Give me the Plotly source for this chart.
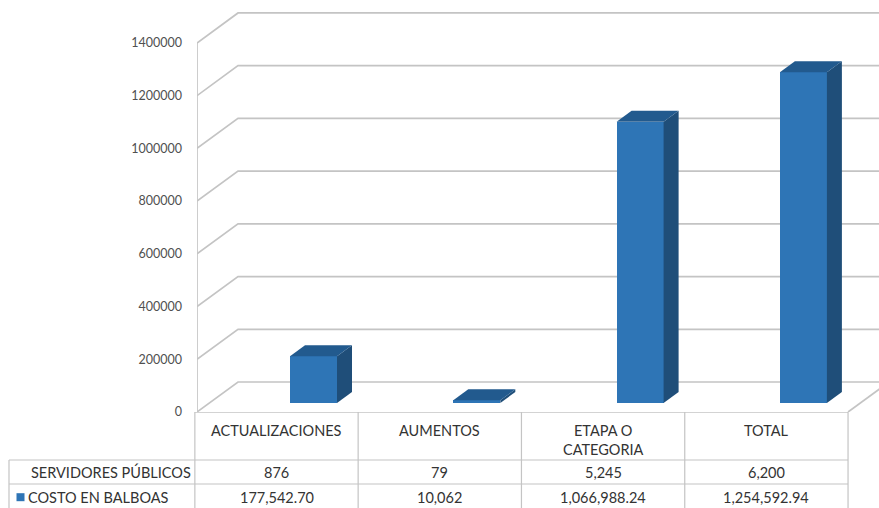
import plotly.graph_objects as go

# ---------------- data ----------------
categories = ["ACTUALIZACIONES", "AUMENTOS", "ETAPA O CATEGORIA", "TOTAL"]
header_labels = ["ACTUALIZACIONES", "AUMENTOS", "ETAPA O<br>CATEGORIA", "TOTAL"]
servidores = [876, 79, 5245, 6200]
costo = [177542.70, 10062, 1066988.24, 1254592.94]
row_labels = ["SERVIDORES PÚBLICOS", "COSTO EN BALBOAS"]
y_ticks = [0, 200000, 400000, 600000, 800000, 1000000, 1200000, 1400000]


def fmt(v):
    return f"{v:,.0f}" if float(v).is_integer() else f"{v:,.2f}"


servidores_text = [fmt(v) for v in servidores]
costo_text = [fmt(v) for v in costo]

# ---------------- geometry (pixel based style constants) ----------------
W, H = 879, 508
PX_PER_CAT = 163.3          # pixels per category
CAT0_PX = 276.5             # pixel x of first category centre
PLOT_LEFT_PX = 197          # front-left edge of the 3D box
FLOOR_PX = 412              # pixel y of the front floor edge
PX_PER_VAL = 263.6e-6       # pixels per value unit
TABLE_H = H - FLOOR_PX


def ux(px):  # horizontal pixel length -> category units
    return px / PX_PER_CAT


def uy(px):  # vertical pixel length -> value units
    return px / PX_PER_VAL


x_lo = ux(PLOT_LEFT_PX - CAT0_PX)
x_hi = ux(W - CAT0_PX)
x2_lo = ux(0 - CAT0_PX)
y_hi = uy(FLOOR_PX)

WALL_DX, WALL_DY = ux(41), uy(30)
BAR_SHIFT, BAR_W = ux(37), ux(47)
BAR_BASE = uy(9)
BAR_DX, BAR_DY = ux(15), uy(11)

FRONT = "#2E75B6"
SIDE = "#1F4E79"
TOP = "#225A8E"
GRID = "#C4C4C4"
TXT = "#333333"
FONT = "Lato"
TSIZE = 14.5

fig = go.Figure()

# ---------------- bars (front faces) ----------------
idx = list(range(len(categories)))
bx = [i + BAR_SHIFT for i in idx]
fig.add_trace(go.Bar(
    x=bx, y=costo, base=[BAR_BASE] * len(costo), width=BAR_W,
    marker=dict(color=FRONT, line=dict(width=0)),
    name="COSTO EN BALBOAS", showlegend=False, hoverinfo="skip",
    xaxis="x", yaxis="y",
))

# side and top faces
for xc, v in zip(bx, costo):
    xl, xr = xc - BAR_W / 2, xc + BAR_W / 2
    top = BAR_BASE + v
    fig.add_trace(go.Scatter(
        x=[xr, xr + BAR_DX, xr + BAR_DX, xr, xr],
        y=[BAR_BASE, BAR_BASE + BAR_DY, top + BAR_DY, top, BAR_BASE],
        fill="toself", fillcolor=SIDE, mode="lines", line=dict(width=0, color=SIDE),
        showlegend=False, hoverinfo="skip", xaxis="x", yaxis="y",
    ))
    fig.add_trace(go.Scatter(
        x=[xl, xl + BAR_DX, xr + BAR_DX, xr, xl],
        y=[top, top + BAR_DY, top + BAR_DY, top, top],
        fill="toself", fillcolor=TOP, mode="lines", line=dict(width=0, color=TOP),
        showlegend=False, hoverinfo="skip", xaxis="x", yaxis="y",
    ))

shapes = []
# back-wall gridlines with their diagonal on the left wall
for v in y_ticks:
    shapes.append(dict(
        type="path", xref="x", yref="y", layer="below",
        path=f"M {x_lo},{v} L {x_lo + WALL_DX},{v + WALL_DY} L {x_hi + 1},{v + WALL_DY}",
        line=dict(color=GRID, width=1.7),
    ))
# front-left vertical edge
shapes.append(dict(type="line", xref="x", yref="y", layer="below",
                   x0=x_lo, x1=x_lo, y0=0, y1=y_ticks[-1],
                   line=dict(color=GRID, width=1.7)))
# floor right diagonal
last = len(categories) - 0.5
shapes.append(dict(type="line", xref="x", yref="y", layer="below",
                   x0=last, x1=last + WALL_DX, y0=0, y1=WALL_DY,
                   line=dict(color=GRID, width=1.7)))

# ---------------- data table ----------------
n = len(categories)
tbl_left = ux(9 - CAT0_PX)
shapes.append(dict(type="line", xref="x2", yref="y2", x0=-0.5, x1=n - 0.5, y0=4, y1=4,
                   line=dict(color=GRID, width=1.7)))
for yv in [2, 1]:
    shapes.append(dict(type="line", xref="x2", yref="y2", x0=tbl_left, x1=n - 0.5,
                       y0=yv, y1=yv, line=dict(color=GRID, width=1.2)))
for k in range(n + 1):
    shapes.append(dict(type="line", xref="x2", yref="y2", x0=k - 0.5, x1=k - 0.5,
                       y0=0, y1=4, line=dict(color=GRID, width=1.2)))
shapes.append(dict(type="line", xref="x2", yref="y2", x0=tbl_left, x1=tbl_left,
                   y0=0, y1=2, line=dict(color=GRID, width=1.2)))

tfont = dict(family=FONT, size=TSIZE, color=TXT)
annotations = []
for i, lab in enumerate(header_labels):
    annotations.append(dict(xref="x2", yref="y2", x=i, y=3.66, yanchor="top",
                            text=lab, showarrow=False, font=tfont))
    annotations.append(dict(xref="x2", yref="y2", x=i, y=1.5, yanchor="middle",
                            text=servidores_text[i], showarrow=False, font=tfont))
    annotations.append(dict(xref="x2", yref="y2", x=i, y=0.42, yanchor="middle",
                            text=costo_text[i], showarrow=False, font=tfont))
annotations.append(dict(xref="x2", yref="y2", x=-0.5 - ux(2), y=1.5, xanchor="right",
                        yanchor="middle", text=row_labels[0], showarrow=False, font=tfont))
annotations.append(dict(xref="x2", yref="y2", x=ux(26 - CAT0_PX), y=0.42, xanchor="left",
                        yanchor="middle", text=row_labels[1], showarrow=False, font=tfont))

# legend key square in the table
fig.add_trace(go.Scatter(
    x=[ux(20.5 - CAT0_PX)], y=[0.45], mode="markers",
    marker=dict(symbol="square", size=8, color=FRONT),
    showlegend=False, hoverinfo="skip", xaxis="x2", yaxis="y2",
))

fig.update_layout(
    width=W, height=H, autosize=False,
    margin=dict(l=0, r=0, t=0, b=0, pad=0, autoexpand=False),
    paper_bgcolor="white", plot_bgcolor="rgba(0,0,0,0)",
    showlegend=False,
    bargap=0,
    xaxis=dict(domain=[PLOT_LEFT_PX / W, 1], range=[x_lo, x_hi], visible=False,
               anchor="y", automargin=False),
    yaxis=dict(domain=[TABLE_H / H, 1], range=[0, y_hi], anchor="x", automargin=False,
               tickmode="array", tickvals=y_ticks, ticktext=[str(v) for v in y_ticks],
               showgrid=False, zeroline=False, showline=False, ticks="",
               ticklabelstandoff=14,
               tickfont=dict(family=FONT, size=12.5, color="#505050")),
    xaxis2=dict(domain=[0, 1], range=[x2_lo, x_hi], visible=False, anchor="y2",
                automargin=False),
    yaxis2=dict(domain=[0, TABLE_H / H], range=[0, 4], visible=False, anchor="x2",
                automargin=False),
    shapes=shapes,
    annotations=annotations,
)

fig.write_html("out.html")
